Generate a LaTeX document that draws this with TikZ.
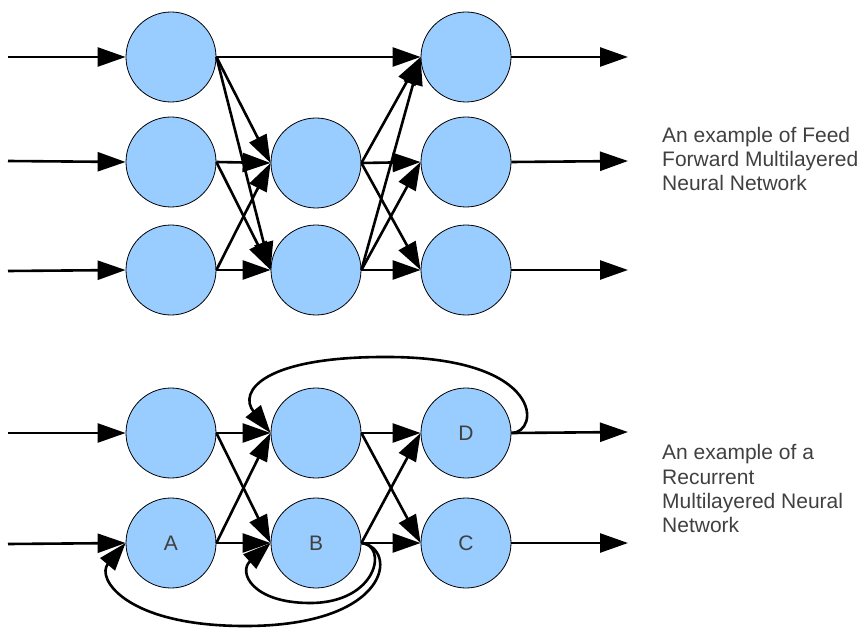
\documentclass[tikz,border=0pt]{standalone}
\usepackage{fontspec}
\setmainfont{Liberation Sans}
\usetikzlibrary{arrows.meta}
\definecolor{nodefill}{HTML}{99CCFF}
\definecolor{txt}{HTML}{404040}
\begin{document}
\begin{tikzpicture}[x=1pt,y=-1pt,
  neuron/.style={circle, draw=black, line width=0.8pt, fill=nodefill, minimum size=90pt, inner sep=0pt, font=\fontsize{21}{21}\selectfont, text=txt},
  conn/.style={line width=2.6pt, -{Triangle[length=28pt,width=19pt]}},
  lbl/.style={anchor=base west, inner sep=0pt, text=txt, font=\fontsize{21}{24}\selectfont}]
\useasboundingbox (0,0) rectangle (866,628);
% ---------- feed forward ----------
\node[neuron] (a1) at (171,57) {};
\node[neuron] (a2) at (171,162) {};
\node[neuron] (a3) at (171,270) {};
\node[neuron] (b1) at (316,163) {};
\node[neuron] (b2) at (316,270) {};
\node[neuron] (c1) at (466,57) {};
\node[neuron] (c2) at (466,162) {};
\node[neuron] (c3) at (466,270) {};
\coordinate (i1) at (8,57);
\coordinate (i2) at (8,161);
\coordinate (i3) at (8,271);
\coordinate (o1) at (628,57);
\coordinate (o2) at (628,161);
\coordinate (o3) at (628,270);
\draw[conn] (i1) -- (a1.west);
\draw[conn] (i2) -- (a2.west);
\draw[conn] (i3) -- (a3.west);
\draw[conn] (a1.east) -- (c1.west);
\foreach \s in {a1,a2,a3} \foreach \t in {b1,b2} \draw[conn] (\s.east) -- (\t.west);
\foreach \s in {b1,b2} \foreach \t in {c1,c2,c3} \draw[conn] (\s.east) -- (\t.west);
\draw[conn] (c1.east) -- (o1);
\draw[conn] (c2.east) -- (o2);
\draw[conn] (c3.east) -- (o3);
% ---------- recurrent ----------
\node[neuron] (p1) at (171,433) {};
\node[neuron] (A) at (171,543) {A};
\node[neuron] (q1) at (316,433) {};
\node[neuron] (B) at (316,543) {B};
\node[neuron] (D) at (466,433) {D};
\node[neuron] (C) at (466,543) {C};
\coordinate (j1) at (8,433);
\coordinate (j2) at (8,544);
\coordinate (r1) at (628,432);
\coordinate (r2) at (628,543);
\draw[conn] (j1) -- (p1.west);
\draw[conn] (j2) -- (A.west);
\foreach \s in {p1,A} \foreach \t in {q1,B} \draw[conn] (\s.east) -- (\t.west);
\foreach \s in {q1,B} \foreach \t in {D,C} \draw[conn] (\s.east) -- (\t.west);
\draw[conn] (D.east) -- (r1);
\draw[conn] (C.east) -- (r2);
% recurrent loops
\draw[conn] (D.east) .. controls (540,433) and (545,358) .. (390,357) .. controls (262,356) and (238,392) .. (q1.west);
\draw[conn] (B.east) .. controls (388,545) and (378,603) .. (310,603) .. controls (252,603) and (238,572) .. (B.west);
\draw[conn] (B.east) .. controls (398,548) and (392,626) .. (245,626) .. controls (125,626) and (96,578) .. (A.west);
% ---------- texts ----------
\node[lbl] (t1) at (662,143) {An example of Feed};
\node[lbl] (t2) at (662,167) {Forward Multilayered};
\node[lbl] (t3) at (662,191) {Neural Network};
\node[lbl] (u1) at (662,459) {An example of a};
\node[lbl] (u2) at (662,484) {Recurrent};
\node[lbl] (u3) at (662,508) {Multilayered Neural};
\node[lbl] (u4) at (662,532) {Network};
\end{tikzpicture}
\end{document}
